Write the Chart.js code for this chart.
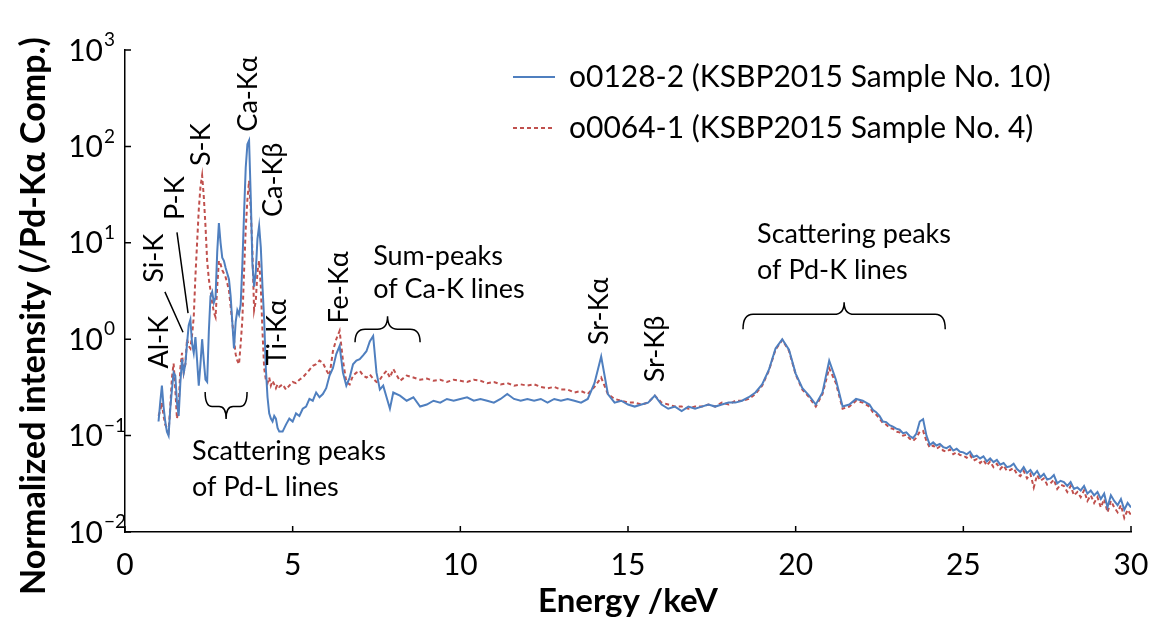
<!DOCTYPE html>
<html>
<head>
<meta charset="utf-8">
<script src="https://cdn.jsdelivr.net/npm/chart.js@4.4.1/dist/chart.umd.min.js"></script>
<style>
  body { margin: 0; background: #fff; }
</style>
</head>
<body>
<canvas id="spectrum" width="1157" height="621"></canvas>
<script>
// energy axis (keV): 0.05 steps over the light-element peaks, coarser above
const energyKeV = [
  1, 1.05, 1.1, 1.15, 1.2, 1.25, 1.3, 1.35, 1.4, 1.45,
  1.5, 1.55, 1.6, 1.65, 1.7, 1.75, 1.8, 1.85, 1.9, 1.95,
  2, 2.05, 2.1, 2.15, 2.2, 2.25, 2.3, 2.35, 2.4, 2.45,
  2.5, 2.55, 2.6, 2.65, 2.7, 2.75, 2.8, 2.85, 2.9, 2.95,
  3, 3.05, 3.1, 3.15, 3.2, 3.25, 3.3, 3.35, 3.4, 3.45,
  3.5, 3.55, 3.6, 3.65, 3.7, 3.75, 3.8, 3.85, 3.9, 3.95,
  4, 4.05, 4.1, 4.15, 4.2, 4.25, 4.3, 4.35, 4.4, 4.45,
  4.5, 4.55, 4.6,
  4.7, 4.8, 4.9, 5, 5.1, 5.2, 5.3, 5.4, 5.5, 5.6,
  5.7, 5.8, 5.9, 6, 6.1, 6.2, 6.3, 6.4, 6.5, 6.6,
  6.7, 6.8, 6.9, 7, 7.1, 7.2, 7.3, 7.4, 7.5, 7.6,
  7.7, 7.8, 7.9, 8,
  8.2, 8.4, 8.6, 8.8, 9, 9.2, 9.4, 9.6, 9.8, 10,
  10.2, 10.4, 10.6, 10.8, 11, 11.2, 11.4, 11.6, 11.8, 12,
  12.2, 12.4, 12.6, 12.8, 13, 13.2, 13.4, 13.6, 13.8, 14,
  14.2, 14.4, 14.6, 14.8, 15, 15.2, 15.4, 15.6, 15.8, 16,
  16.2, 16.4, 16.6, 16.8, 17, 17.2, 17.4, 17.6, 17.8, 18,
  18.2, 18.4, 18.6, 18.8, 19, 19.2, 19.4, 19.6, 19.8, 20,
  20.2, 20.4, 20.6, 20.8, 21, 21.2, 21.4, 21.6, 21.8, 22,
  22.1, 22.2, 22.3, 22.4, 22.5, 22.6, 22.7, 22.8, 22.9, 23,
  23.1, 23.2, 23.3, 23.4, 23.5, 23.6, 23.7, 23.8, 23.9, 24,
  24.1, 24.2, 24.3, 24.4, 24.5, 24.6, 24.7, 24.8, 24.9, 25,
  25.1, 25.2, 25.3, 25.4, 25.5, 25.6, 25.7, 25.8, 25.9, 26,
  26.1, 26.2, 26.3, 26.4, 26.5, 26.6, 26.7, 26.8, 26.9, 27,
  27.1, 27.2, 27.3, 27.4, 27.5, 27.6, 27.7, 27.8, 27.9, 28,
  28.1, 28.2, 28.3, 28.4, 28.5, 28.6, 28.7, 28.8, 28.9, 29,
  29.1, 29.2, 29.3, 29.4, 29.5, 29.6, 29.7, 29.8, 29.9, 30
];

// o0128-2, sample No. 10
const sampleNo10 = [
  0.14, 0.22, 0.33, 0.2, 0.14, 0.11, 0.10, 0.19, 0.3, 0.45,
  0.42, 0.22, 0.16, 0.35, 0.62, 0.45, 0.55, 0.9, 1.4, 1.6,
  0.9, 0.72, 1.05, 0.6, 0.33, 0.55, 1.0, 0.6, 0.38, 0.36,
  1.2, 2.8, 3.1, 2.4, 2.7, 8, 16, 10, 7, 6.5,
  5.5, 4.8, 4.2, 2.8, 1.5, 0.8, 1.5, 2.0, 1.8, 2.3,
  6, 20, 60, 105, 115, 30, 6, 3.5, 5, 11,
  15, 9, 3.5, 1.6, 0.5, 0.25, 0.17, 0.15, 0.14, 0.16,
  0.15, 0.12, 0.11,
  0.11, 0.13, 0.15, 0.14, 0.17, 0.16, 0.19, 0.2, 0.24, 0.23,
  0.28, 0.25, 0.27, 0.31, 0.42, 0.5, 0.7, 0.85, 0.45, 0.33,
  0.4, 0.55, 0.6, 0.62, 0.68, 0.75, 0.95, 1.08, 0.45, 0.3,
  0.33, 0.25, 0.19, 0.28,
  0.26, 0.23, 0.25, 0.2, 0.21, 0.23, 0.22, 0.24, 0.23, 0.24,
  0.25, 0.23, 0.24, 0.23, 0.22, 0.24, 0.27, 0.24, 0.23, 0.24,
  0.23, 0.24, 0.22, 0.24, 0.23, 0.24, 0.23, 0.22, 0.24, 0.35,
  0.66, 0.27, 0.22, 0.23, 0.21, 0.2, 0.21, 0.22, 0.26, 0.21,
  0.19, 0.2, 0.18, 0.2, 0.19, 0.2, 0.21, 0.2, 0.21, 0.22,
  0.22, 0.23, 0.25, 0.28, 0.34, 0.48, 0.8, 1.0, 0.78, 0.44,
  0.31, 0.26, 0.21, 0.28, 0.6, 0.38, 0.2, 0.21, 0.24, 0.23,
  0.22, 0.21, 0.185, 0.175, 0.16, 0.14, 0.138, 0.128, 0.124, 0.118,
  0.115, 0.106, 0.108, 0.099, 0.094, 0.105, 0.14, 0.148, 0.1, 0.08,
  0.085, 0.079, 0.082, 0.076, 0.074, 0.078, 0.07, 0.073, 0.068, 0.067,
  0.064, 0.068, 0.06, 0.062, 0.058, 0.061, 0.054, 0.058, 0.053, 0.056,
  0.05, 0.052, 0.047, 0.048, 0.051, 0.045, 0.042, 0.047, 0.041, 0.044,
  0.039, 0.043, 0.037, 0.04, 0.035, 0.036, 0.039, 0.032, 0.034, 0.033,
  0.03, 0.033, 0.028, 0.029, 0.027, 0.03, 0.025, 0.027, 0.024, 0.026,
  0.022, 0.025, 0.018, 0.024, 0.021, 0.019, 0.022, 0.017, 0.02, 0.018
];

// o0064-1, sample No. 4
const sampleNo4 = [
  0.16, 0.18, 0.22, 0.16, 0.13, 0.12, 0.11, 0.2, 0.4, 0.56,
  0.3, 0.15, 0.2, 0.5, 0.72, 0.45, 0.55, 1.0, 0.85, 0.8,
  1.1, 1.7, 4.5, 10, 22, 38, 50, 30, 15, 6.5,
  4.2, 3.2, 2.4, 1.9, 1.7, 3.5, 6.5, 6, 5.2, 4.8,
  4.4, 3.8, 3.2, 2.2, 1.5, 1.0, 0.7, 0.6, 0.55, 0.9,
  1.6, 5, 14, 28, 44, 22, 8, 2.0, 2.5, 5,
  6.5, 3.5, 1.2, 0.5, 0.38, 0.35, 0.4, 0.33, 0.37, 0.34,
  0.31, 0.34, 0.32,
  0.34, 0.30, 0.33, 0.36, 0.35, 0.38, 0.40, 0.44, 0.48, 0.53,
  0.55, 0.6, 0.57, 0.48, 0.42, 0.75, 1.0, 1.22, 0.6, 0.36,
  0.34, 0.42, 0.45, 0.47, 0.42, 0.40, 0.43, 0.39, 0.36, 0.38,
  0.43, 0.47, 0.40, 0.49,
  0.37, 0.42, 0.40, 0.38, 0.39, 0.37, 0.38, 0.36, 0.38, 0.37,
  0.36, 0.38, 0.37, 0.35, 0.36, 0.34, 0.35, 0.33, 0.34, 0.33,
  0.34, 0.32, 0.31, 0.32, 0.30, 0.30, 0.28, 0.29, 0.27, 0.32,
  0.40, 0.27, 0.24, 0.23, 0.22, 0.22, 0.21, 0.22, 0.26, 0.22,
  0.21, 0.20, 0.20, 0.19, 0.20, 0.20, 0.21, 0.20, 0.22, 0.21,
  0.23, 0.23, 0.24, 0.27, 0.33, 0.47, 0.78, 0.98, 0.76, 0.43,
  0.30, 0.25, 0.20, 0.27, 0.5, 0.35, 0.19, 0.2, 0.23, 0.22,
  0.21, 0.2, 0.175, 0.165, 0.15, 0.135, 0.13, 0.12, 0.118, 0.11,
  0.108, 0.1, 0.102, 0.093, 0.088, 0.095, 0.11, 0.112, 0.088, 0.075,
  0.079, 0.073, 0.077, 0.07, 0.068, 0.072, 0.064, 0.067, 0.063, 0.062,
  0.059, 0.063, 0.055, 0.057, 0.052, 0.056, 0.049, 0.054, 0.047, 0.051,
  0.045, 0.049, 0.043, 0.044, 0.046, 0.04, 0.038, 0.043, 0.036, 0.04,
  0.029, 0.039, 0.034, 0.036, 0.031, 0.032, 0.035, 0.028, 0.031, 0.03,
  0.026, 0.03, 0.024, 0.026, 0.023, 0.027, 0.021, 0.024, 0.02, 0.023,
  0.018, 0.022, 0.016, 0.021, 0.018, 0.016, 0.019, 0.014, 0.017, 0.015
];

const seriesNames = ['o0128-2 (KSBP2015 Sample No. 10)', 'o0064-1 (KSBP2015 Sample No. 4)'];
const xTickValues = [0, 5, 10, 15, 20, 25, 30];
const yDecades = [-2, -1, 0, 1, 2, 3];

// vertical peak names, centred at (keV, intensity)
const peakLabels = [
  { text: 'Al-K', x: 1.01, y: 0.93 },
  { text: 'Si-K', x: 0.86, y: 6.9 },
  { text: 'P-K', x: 1.49, y: 29 },
  { text: 'S-K', x: 2.27, y: 104 },
  { text: 'Ca-Kα', x: 3.67, y: 350 },
  { text: 'Ca-Kβ', x: 4.41, y: 45 },
  { text: 'Ti-Kα', x: 4.53, y: 1.18 },
  { text: 'Fe-Kα', x: 6.38, y: 3.45 },
  { text: 'Sr-Kα', x: 14.14, y: 1.95 },
  { text: 'Sr-Kβ', x: 15.8, y: 0.79 }
];

// pointer lines from label to peak
const leaders = [
  { from: [1.19, 3.1], to: [1.73, 1.18] },
  { from: [1.55, 12.8], to: [1.88, 1.86] }
];

// curly braces: x range, y of the ends, y of the bar, y of the tip
const braces = [
  { x0: 2.39, x1: 3.64, ends: 0.283, bar: 0.2, tip: 0.149 },
  { x0: 6.86, x1: 8.8, ends: 0.93, bar: 1.27, tip: 1.73 },
  { x0: 18.43, x1: 24.46, ends: 1.27, bar: 1.81, tip: 2.42 }
];

// horizontal notes, left aligned, one entry per line
const notes = [
  { text: 'Scattering peaks', x: 2.0, y: 0.069 },
  { text: 'of Pd-L lines', x: 2.0, y: 0.029 },
  { text: 'Sum-peaks', x: 7.4, y: 7.2 },
  { text: 'of Ca-K lines', x: 7.4, y: 3.3 },
  { text: 'Scattering peaks', x: 18.85, y: 12.2 },
  { text: 'of Pd-K lines', x: 18.85, y: 5.2 }
];

const FONT = 'Lato, "Noto Sans", sans-serif';
const BLUE = '#4f7fbf';
const RED = '#c0504d';

function toPoints(values) {
  return energyKeV.map((e, i) => ({ x: e, y: values[i] }));
}

const decorations = {
  id: 'decorations',
  afterDraw(chart) {
    const ctx = chart.ctx;
    const xs = chart.scales.x;
    const ys = chart.scales.y;
    const area = chart.chartArea;
    const px = v => xs.getPixelForValue(v);
    const py = v => ys.getPixelForValue(v);

    ctx.save();
    ctx.strokeStyle = '#000';
    ctx.fillStyle = '#000';
    ctx.lineWidth = 1.5;

    // ticks point into the plot
    ctx.beginPath();
    xTickValues.forEach(v => {
      ctx.moveTo(px(v), area.bottom);
      ctx.lineTo(px(v), area.bottom - 6);
    });
    yDecades.forEach(k => {
      ctx.moveTo(area.left, py(10 ** k));
      ctx.lineTo(area.left + 6, py(10 ** k));
    });
    ctx.stroke();

    // tick labels
    ctx.font = '30px ' + FONT;
    ctx.textAlign = 'center';
    ctx.textBaseline = 'middle';
    xTickValues.forEach(v => ctx.fillText(String(v), px(v), area.bottom + 33));

    yDecades.forEach(k => {
      const y = py(10 ** k);
      ctx.font = '30px ' + FONT;
      ctx.textAlign = 'right';
      ctx.fillText('10', area.left - 22, y + 1);
      ctx.font = '19px ' + FONT;
      ctx.textAlign = 'left';
      ctx.fillText(String(k).replace('-', '\u2212'), area.left - 21, y - 10);
    });

    // axis titles
    ctx.font = 'bold 33px ' + FONT;
    ctx.textAlign = 'center';
    ctx.fillText('Energy /keV', (area.left + area.right) / 2, 601);
    ctx.save();
    ctx.translate(34, 316);
    ctx.rotate(-Math.PI / 2);
    ctx.font = 'bold 34px ' + FONT;
    ctx.fillText('Normalized intensity (/Pd-Kα Comp.)', 0, 0);
    ctx.restore();

    // legend
    ctx.font = '30px ' + FONT;
    ctx.textAlign = 'left';
    chart.data.datasets.forEach((ds, i) => {
      const y = 77 + i * 51;
      ctx.save();
      ctx.strokeStyle = ds.borderColor;
      ctx.lineWidth = ds.borderWidth;
      ctx.setLineDash(ds.borderDash || []);
      ctx.beginPath();
      ctx.moveTo(513, y);
      ctx.lineTo(555, y);
      ctx.stroke();
      ctx.restore();
      ctx.fillText(ds.label, 569, y);
    });

    // peak names
    ctx.font = '27px ' + FONT;
    peakLabels.forEach(l => {
      ctx.save();
      ctx.translate(px(l.x), py(l.y));
      ctx.rotate(-Math.PI / 2);
      ctx.textAlign = 'center';
      ctx.fillText(l.text, 0, 0);
      ctx.restore();
    });

    // leader lines
    ctx.beginPath();
    leaders.forEach(l => {
      ctx.moveTo(px(l.from[0]), py(l.from[1]));
      ctx.lineTo(px(l.to[0]), py(l.to[1]));
    });
    ctx.stroke();

    // braces
    braces.forEach(b => {
      const x0 = px(b.x0), x1 = px(b.x1), xm = (x0 + x1) / 2;
      const ye = py(b.ends), yb = py(b.bar), yt = py(b.tip);
      const r = Math.min(10, (x1 - x0) / 6);
      ctx.beginPath();
      ctx.moveTo(x0, ye);
      ctx.quadraticCurveTo(x0, yb, x0 + r, yb);
      ctx.lineTo(xm - r, yb);
      ctx.quadraticCurveTo(xm, yb, xm, yt);
      ctx.quadraticCurveTo(xm, yb, xm + r, yb);
      ctx.lineTo(x1 - r, yb);
      ctx.quadraticCurveTo(x1, yb, x1, ye);
      ctx.stroke();
    });

    // notes
    ctx.textAlign = 'left';
    notes.forEach(n => ctx.fillText(n.text, px(n.x), py(n.y)));

    ctx.restore();
  }
};

new Chart(document.getElementById('spectrum'), {
  type: 'line',
  data: {
    datasets: [
      {
        label: seriesNames[0],
        data: toPoints(sampleNo10),
        borderColor: BLUE,
        borderWidth: 2,
        pointRadius: 0,
        tension: 0
      },
      {
        label: seriesNames[1],
        data: toPoints(sampleNo4),
        borderColor: RED,
        borderWidth: 2,
        borderDash: [4, 3],
        pointRadius: 0,
        tension: 0
      }
    ]
  },
  options: {
    responsive: false,
    animation: false,
    layout: { padding: { left: 125, top: 50, right: 26, bottom: 89 } },
    plugins: {
      legend: { display: false },
      tooltip: { enabled: false }
    },
    scales: {
      x: {
        type: 'linear',
        min: 0,
        max: 30,
        grid: { display: false, drawTicks: false },
        border: { color: '#000', width: 1.5 },
        ticks: { display: false }
      },
      y: {
        type: 'logarithmic',
        min: 0.01,
        max: 1000,
        grid: { display: false, drawTicks: false },
        border: { color: '#000', width: 1.5 },
        ticks: { display: false }
      }
    }
  },
  plugins: [decorations]
});
</script>
</body>
</html>
